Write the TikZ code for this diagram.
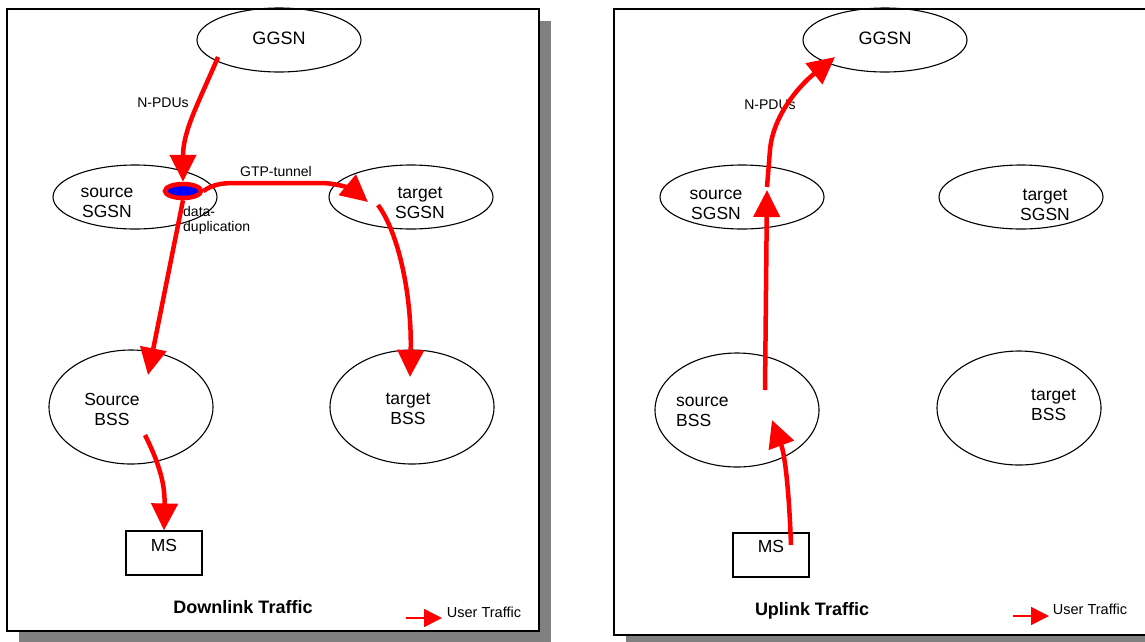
\documentclass[tikz,border=0pt]{standalone}
\usepackage{fontspec}
\setmainfont{Liberation Sans}
\usetikzlibrary{shapes.geometric,arrows.meta}
\definecolor{shadowgray}{RGB}{128,128,128}

\begin{document}
\begin{tikzpicture}[x=1pt, y=-1pt,
    every node/.style={font=\fontsize{17.5}{20}\selectfont, inner sep=0pt},
    netnode/.style={draw, ellipse, line width=1.1pt, minimum width=164pt, minimum height=64pt},
    bssnode/.style={netnode, minimum height=114pt},
    msbox/.style={draw, rectangle, line width=1.1pt, minimum width=76pt, minimum height=44pt},
    lbl/.style={align=center},
    small/.style={font=\fontsize{14}{15}\selectfont},
    title/.style={font=\fontsize{18}{20}\selectfont\bfseries},
    traffic/.style={red, line width=4.5pt, -{Triangle[length=27pt,width=26pt]}},
    legend/.style={red, line width=1.5pt, -{Triangle[length=18pt,width=18pt]}}
    ]
    \useasboundingbox (0,0) rectangle (1145,641);
    \clip (0,0) rectangle (1145,641);

    % Frames with shadow
    \fill[shadowgray] (19,21) rectangle (551,660);
    \draw[line width=1.2pt, fill=white] (7,9) rectangle (539,631);
    \fill[shadowgray] (626,21) rectangle (1170,660);
    \draw[line width=1.2pt, fill=white] (614,9) rectangle (1150,635);

    % Downlink nodes
    \node[netnode] (lggsn) at (279,40) {};
    \node[font=\fontsize{18}{20}\selectfont] (lggsnTxt) at (279,38) {GGSN};
    \node[netnode] (lssgsn) at (135,197) {};
    \node[lbl] (lssgsnTxt) at (107,203) {source\\SGSN};
    \node[netnode] (ltsgsn) at (411,197) {};
    \node[lbl] (ltsgsnTxt) at (420,203) {target\\SGSN};
    \node[bssnode] (lsbss) at (131,407) {};
    \node[lbl] (lsbssTxt) at (112,409) {Source\\BSS};
    \node[bssnode] (ltbss) at (412,407) {};
    \node[lbl] (ltbssTxt) at (408,409) {target\\BSS};
    \node[msbox] (lms) at (164,553) {};
    \node (lmsTxt) at (164,545) {MS};
    \node[draw=red, line width=4.5pt, fill=blue, ellipse, minimum width=36pt, minimum height=14pt] (blob) at (183,191) {};

    % Downlink labels
    \node[small] (lnpdu) at (163,103) {N-PDUs};
    \node[small] (gtp) at (276,171) {GTP-tunnel};
    \node[small, align=left, anchor=west] (dup) at (183,220) {data-\\duplication};
    \node[title] (ltitle) at (243,607) {Downlink Traffic};
    \node[small, font=\fontsize{14.5}{16}\selectfont] (lkey) at (484,612) {User Traffic};

    % Downlink traffic
    \coordinate (lggsnOut) at (218,57);
    \coordinate (ltsgsnIn) at (368,202);
    \coordinate (ltsgsnOut) at (378,205);
    \coordinate (lsbssIn) at (148,375);
    \coordinate (ltbssIn) at (410,377);
    \coordinate (lsbssOut) at (145,435);
    \draw[traffic] (lggsnOut) .. controls (200,100) and (183,130) .. (blob.north);
    \draw[traffic] (blob.east) .. controls (215,183) and (225,183) .. (240,183) -- (320,183)
        .. controls (342,183) and (356,192) .. (ltsgsnIn);
    \draw[traffic] (blob.south) -- (lsbssIn);
    \draw[traffic] (ltsgsnOut) .. controls (400,235) and (412,300) .. (ltbssIn);
    \draw[traffic] (lsbssOut) .. controls (160,465) and (165,485) .. (lms.north);
    \coordinate (lkeyA) at (406,618);
    \coordinate (lkeyB) at (442,618);
    \draw[legend] (lkeyA) -- (lkeyB);

    % Uplink nodes
    \node[netnode] (rggsn) at (885,40) {};
    \node[font=\fontsize{18}{20}\selectfont] (rggsnTxt) at (885,38) {GGSN};
    \node[netnode] (rssgsn) at (742,197) {};
    \node[lbl] (rssgsnTxt) at (716,205) {source\\SGSN};
    \node[netnode] (rtsgsn) at (1021,197) {};
    \node[lbl] (rtsgsnTxt) at (1045,205) {target\\SGSN};
    \node[bssnode] (rsbss) at (737,410) {};
    \node[align=left, anchor=west] (rsbssTxt) at (676,412) {source\\BSS};
    \node[bssnode] (rtbss) at (1019,408) {};
    \node[align=left, anchor=west] (rtbssTxt) at (1031,405) {target\\BSS};
    \node[msbox] (rms) at (771,555) {};
    \node (rmsTxt) at (771,546) {MS};

    % Uplink labels
    \node[small] (rnpdu) at (770,105) {N-PDUs};
    \node[title] (rtitle) at (812,611) {Uplink Traffic};
    \node[small, font=\fontsize{14.5}{16}\selectfont] (rkey) at (1090,609) {User Traffic};

    % Uplink traffic
    \coordinate (rmsOut) at (791,545);
    \coordinate (rsbssIn) at (772,420);
    \coordinate (rsbssOut) at (765,390);
    \coordinate (rssgsnIn) at (767,190);
    \coordinate (rssgsnOut) at (767,187);
    \coordinate (rggsnIn) at (835,57);
    \draw[traffic] (rmsOut) .. controls (789,490) and (785,455) .. (rsbssIn);
    \draw[traffic] (rsbssOut) -- (rssgsnIn);
    \draw[traffic] (rssgsnOut) -- (770,150) .. controls (773,115) and (800,85) .. (rggsnIn);
    \coordinate (rkeyA) at (1013,616);
    \coordinate (rkeyB) at (1049,616);
    \draw[legend] (rkeyA) -- (rkeyB);

\end{tikzpicture}
\end{document}
